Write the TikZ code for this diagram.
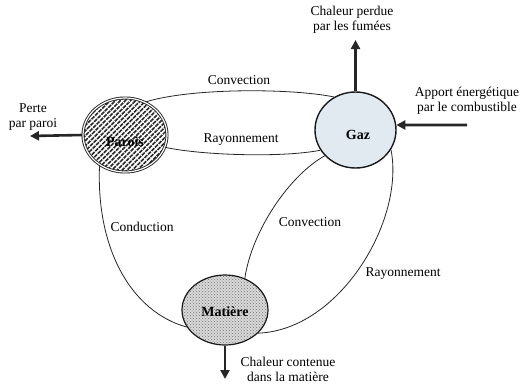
\documentclass[tikz,border=0pt]{standalone}
\usepackage{fontspec}
\setmainfont{Liberation Serif}
\usetikzlibrary{shapes.geometric,patterns,patterns.meta,arrows.meta}
\definecolor{gazfill}{HTML}{E2EAF1}
\begin{document}
\begin{tikzpicture}[x=1pt,y=-1pt,
  txt/.style={font=\fontsize{13.5}{15}\selectfont, align=center, inner sep=0pt},
  nlbl/.style={font=\fontsize{14}{16}\selectfont\bfseries, inner sep=0pt},
  zone/.style={ellipse, inner sep=0pt},
  conn/.style={draw=black!85, line width=0.8pt},
  flux/.style={draw=black!85, line width=2.6pt, -{Triangle[length=9pt,width=9pt]}}]
\useasboundingbox (0,0) rectangle (522,389);

% zones
\node[zone, minimum width=84pt, minimum height=74pt,
  preaction={fill=white},
  pattern={Lines[angle=45,distance=3.6pt,line width=1.6pt]}, pattern color=black!85]
  (parois) at (125,135) {};
\fill[pattern={Lines[angle=-45,distance=5pt,line width=0.7pt]}, pattern color=white]
  (parois.center) ellipse [x radius=42pt, y radius=37pt];
\draw[double=white, double distance=1.2pt, line width=0.9pt, draw=black!85]
  (parois.center) ellipse [x radius=42pt, y radius=37pt];

\node[zone, minimum width=81pt, minimum height=76pt, fill=gazfill, draw=black!90, line width=1.4pt]
  (gaz) at (355.5,130) {};

\node[zone, minimum width=86pt, minimum height=70pt,
  preaction={fill=gray!30},
  pattern=crosshatch dots, pattern color=black!55,
  draw=black!90, line width=1.2pt]
  (matiere) at (225,310) {};

% labels of zones
\node[nlbl] (paroisl) at (125,142) {Parois};
\node[nlbl] (gazl) at (358,135) {Gaz};
\node[nlbl] (matierel) at (225,312) {Matière};

% connectors
\draw[conn] (parois.58) .. controls (190,88) and (290,88) .. (gaz.123);
\draw[conn] (parois.-17) .. controls (200,155) and (280,158) .. (gaz.-150);
\draw[conn] (parois.-130) .. controls (96,250) and (132,312) .. (matiere.-156);
\draw[conn] (gaz.-140) .. controls (290,175) and (252,230) .. (matiere.58);
\draw[conn] (gaz.-29) .. controls (405,220) and (340,330) .. (matiere.-35);

% connector labels
\node[txt] (conv1) at (239,80) {Convection};
\node[txt] (ray1) at (241,140) {Rayonnement};
\node[txt] (cond) at (142,227) {Conduction};
\node[txt] (conv2) at (310,222) {Convection};
\node[txt] (ray2) at (403,274) {Rayonnement};

% fluxes
\coordinate (pertec) at (30,136);
\coordinate (fumc) at (355.5,40);
\coordinate (combc) at (467,125);
\coordinate (matc) at (225,379);
\draw[flux] (parois.west) -- (pertec);
\draw[flux] (gaz.north) -- (fumc);
\draw[flux] (combc) -- (gaz.7);
\draw[flux] (matiere.south) -- (matc);

\node[txt] (pertel) at (33,117) {Perte\\par paroi};
\node[txt] (fuml) at (352,20) {Chaleur perdue\\par les fumées};
\node[txt] (combl) at (467,101) {Apport énergétique\\par le combustible};
\node[txt] (matl) at (288,369) {Chaleur contenue\\dans la matière};
\end{tikzpicture}
\end{document}
